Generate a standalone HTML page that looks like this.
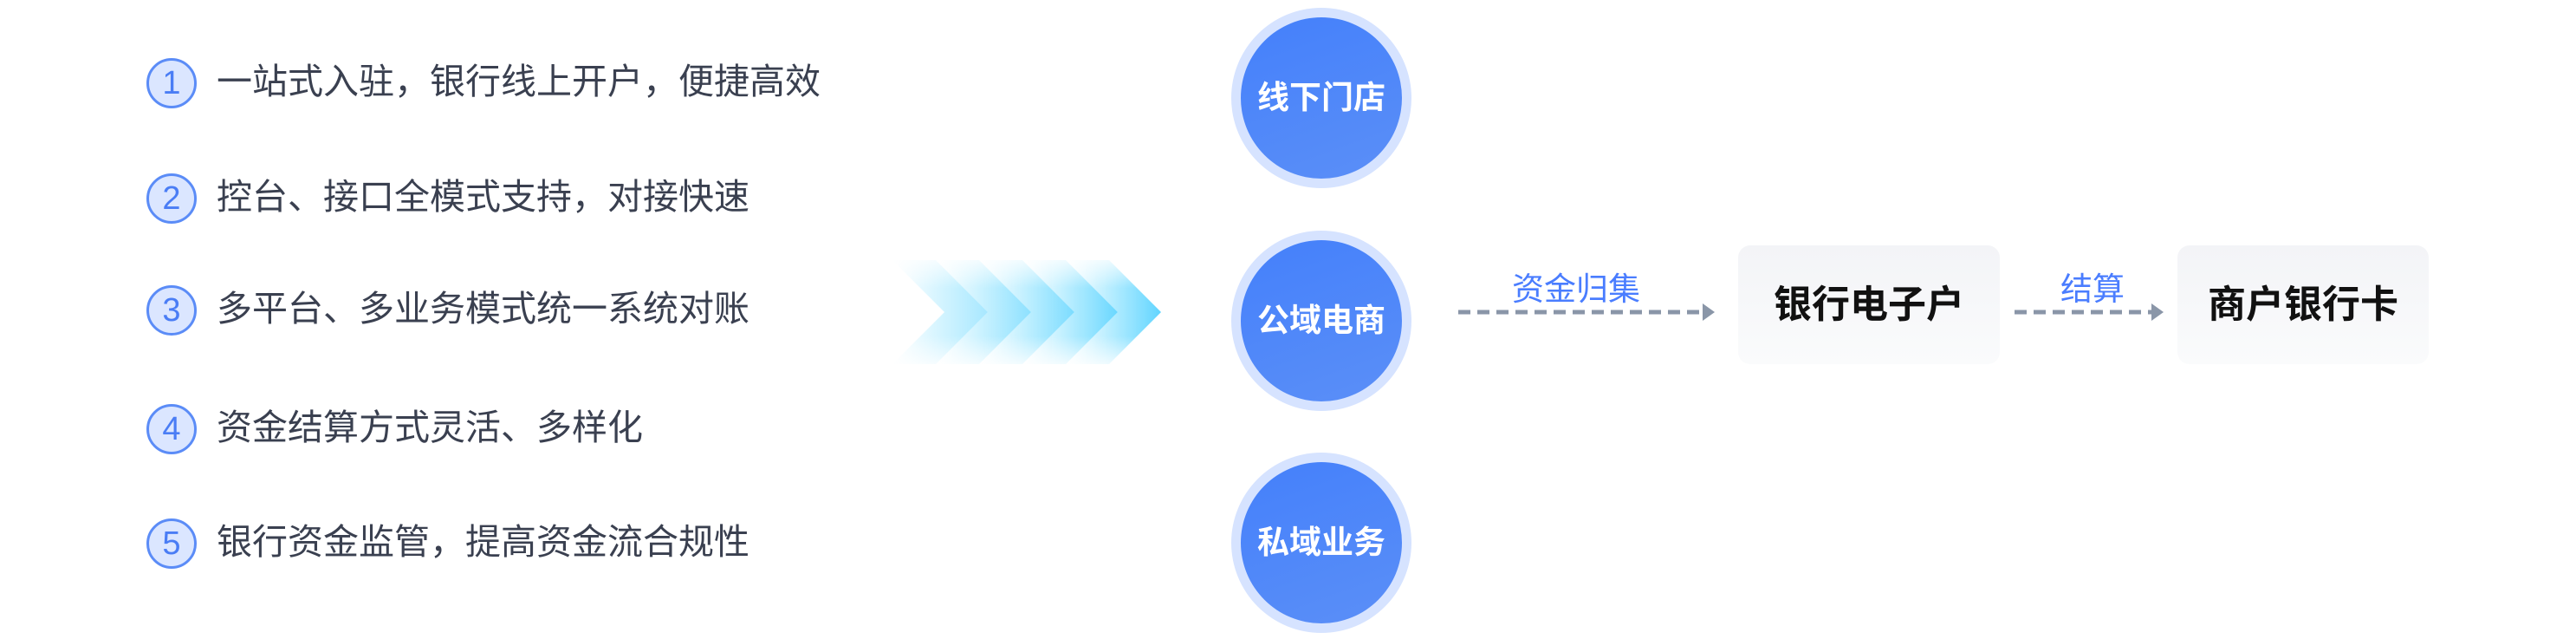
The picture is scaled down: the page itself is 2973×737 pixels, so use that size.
<!DOCTYPE html>
<html><head><meta charset="utf-8"><style>
body{margin:0;width:2973px;height:737px;background:#fff;position:relative;overflow:hidden;font-family:"Liberation Sans","Noto Sans CJK SC",sans-serif}
.n{position:absolute;left:169px;width:52px;height:52px;border:3px solid #5b8cf7;border-radius:50%;background:#dbe6ff;color:#4a7df5;font-size:38px;line-height:52px;text-align:center;box-sizing:content-box}
.t{position:absolute;left:250px;font-size:41px;color:#3a4050;line-height:56px;white-space:nowrap}
.c{position:absolute;width:208px;height:208px;border-radius:50%;background:#d6e3ff}
.c div{position:absolute;left:11px;top:11px;width:186px;height:186px;border-radius:50%;background:linear-gradient(160deg,#4480fb,#5b8ff7);color:#fff;font-weight:bold;font-size:37px;line-height:186px;text-align:center}
.box{position:absolute;top:283px;height:137px;border-radius:14px;background:linear-gradient(#f3f4f7,#fafbfc);font-weight:bold;font-size:44px;line-height:137px;text-align:center;color:#111}
.lbl{position:absolute;color:#4a7dff;font-size:37px;white-space:nowrap}
</style></head><body>
<div class="n" style="top:67px">1</div><div class="t" style="top:66px">一站式入驻，银行线上开户，便捷高效</div>
<div class="n" style="top:200px">2</div><div class="t" style="top:199px">控台、接口全模式支持，对接快速</div>
<div class="n" style="top:329px">3</div><div class="t" style="top:328px">多平台、多业务模式统一系统对账</div>
<div class="n" style="top:466px">4</div><div class="t" style="top:465px">资金结算方式灵活、多样化</div>
<div class="n" style="top:598px">5</div><div class="t" style="top:597px">银行资金监管，提高资金流合规性</div>
<svg style="position:absolute;left:1000px;top:290px" width="350" height="140">
<defs><linearGradient id="g" x1="0" x2="1"><stop offset="0" stop-color="#5ad8ff" stop-opacity="0"/><stop offset="1" stop-color="#4fd0ff"/></linearGradient>
<linearGradient id="v" x1="0" y1="0" x2="0" y2="1"><stop offset="0" stop-color="#fff" stop-opacity="0"/><stop offset=".3" stop-color="#fff"/><stop offset=".7" stop-color="#fff"/><stop offset="1" stop-color="#fff" stop-opacity="0"/></linearGradient>
<mask id="m"><rect width="350" height="140" fill="url(#v)"/></mask></defs>
<g fill="url(#g)" mask="url(#m)">
<polygon points="30,10 90,70 30,130 80,130 140,70 80,10" opacity=".5"/>
<polygon points="80,10 140,70 80,130 130,130 190,70 130,10" opacity=".65"/>
<polygon points="130,10 190,70 130,130 180,130 240,70 180,10" opacity=".75"/>
<polygon points="180,10 240,70 180,130 230,130 290,70 230,10" opacity=".85"/>
<polygon points="230,10 290,70 230,130 280,130 340,70 280,10" opacity=".9"/>
</g></svg>
<div class="c" style="left:1421px;top:9px"><div>线下门店</div></div>
<div class="c" style="left:1421px;top:266px"><div>公域电商</div></div>
<div class="c" style="left:1421px;top:522px"><div>私域业务</div></div>
<div class="lbl" style="left:1745px;top:303px">资金归集</div>
<svg style="position:absolute;left:1683px;top:348px" width="300" height="24"><line x1="0" y1="12" x2="280" y2="12" stroke="#8a96a8" stroke-width="5" stroke-dasharray="14,8"/><polygon points="282,2 296,12 282,22" fill="#8a96a8"/></svg>
<div class="box" style="left:2006px;width:302px">银行电子户</div>
<div class="lbl" style="left:2378px;top:303px">结算</div>
<svg style="position:absolute;left:2325px;top:348px" width="175" height="24"><line x1="0" y1="12" x2="158" y2="12" stroke="#8a96a8" stroke-width="5" stroke-dasharray="14,8"/><polygon points="158,2 172,12 158,22" fill="#8a96a8"/></svg>
<div class="box" style="left:2513px;width:290px">商户银行卡</div>
</body></html>
